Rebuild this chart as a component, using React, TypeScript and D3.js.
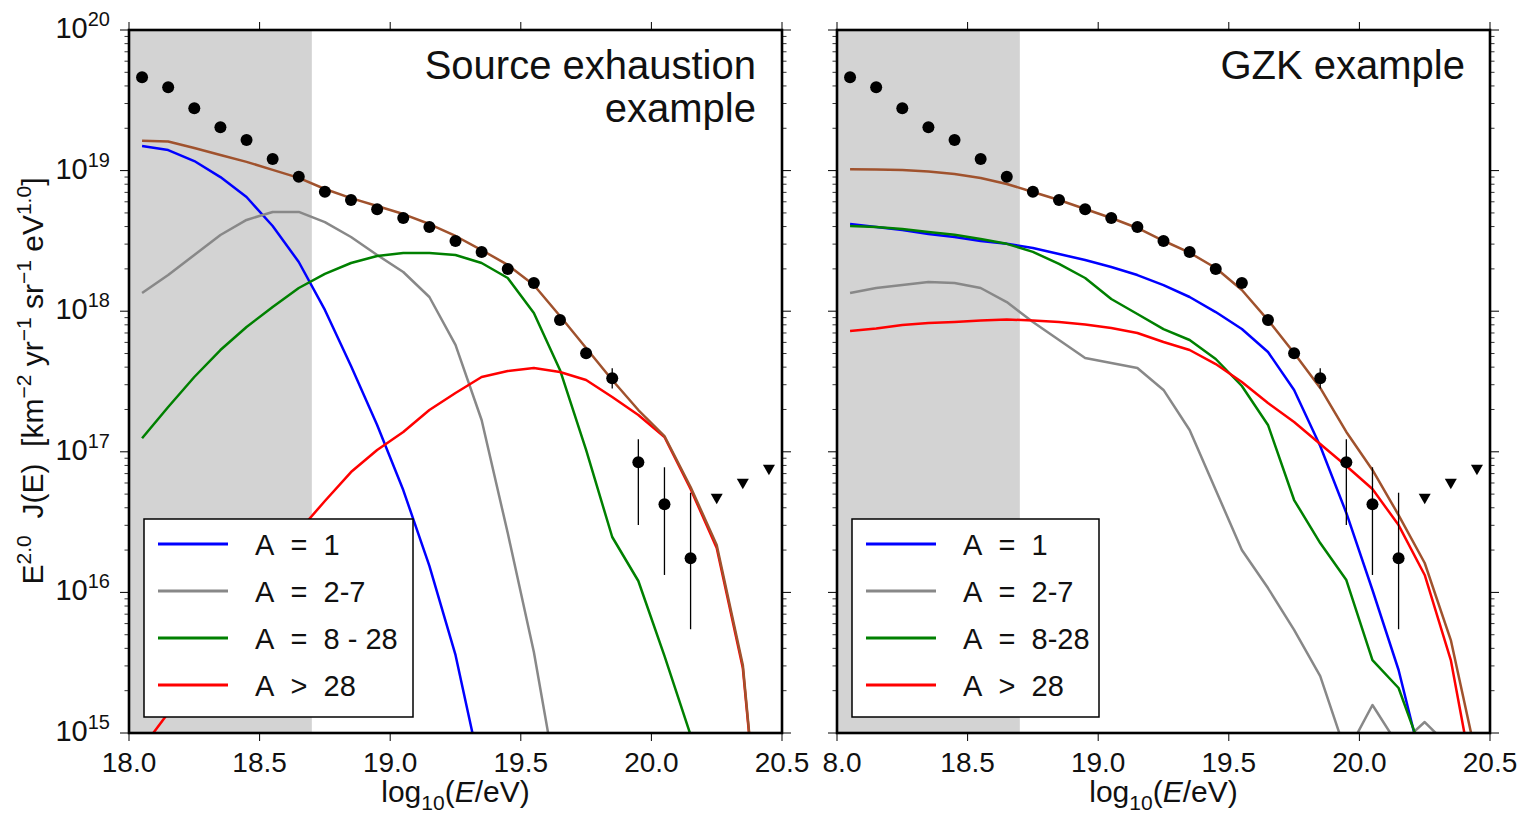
import React from "react";
import * as d3 from "d3";

// Energy bin centres, log10(E/eV)
const energyBins = [
  18.05, 18.15, 18.25, 18.35, 18.45, 18.55, 18.65, 18.75, 18.85, 18.95,
  19.05, 19.15, 19.25, 19.35, 19.45, 19.55, 19.65, 19.75, 19.85, 19.95,
  20.05, 20.15, 20.25, 20.35, 20.45,
];

// Measured spectrum, log10 of E^2 J(E)
const measuredFlux = [
  19.664, 19.592, 19.443, 19.308, 19.218, 19.083, 18.957, 18.85, 18.791, 18.725,
  18.663, 18.599, 18.499, 18.421, 18.3, 18.2, 17.937, 17.701, 17.523, 16.925,
  16.627, 16.243,
];
// Error bars [bin index, low, high] (log10)
const measuredErrors: [number, number, number][] = [
  [18, 17.45, 17.594],
  [19, 16.479, 17.089],
  [20, 16.124, 16.89],
  [21, 15.738, 16.709],
];
// Upper limits at the last three bins (log10)
const upperLimitBins = [20.25, 20.35, 20.45];
const upperLimits = [16.669, 16.776, 16.876];

// Source exhaustion scenario (log10 flux per bin)
const exhaustionA1 = [19.175, 19.146, 19.068, 18.954, 18.812, 18.606, 18.35, 18.009, 17.61, 17.191, 16.728, 16.188, 15.555, 14.7];
const exhaustionA2to7 = [18.129, 18.257, 18.4, 18.542, 18.649, 18.706, 18.706, 18.634, 18.528, 18.4, 18.279, 18.101, 17.76, 17.226, 16.422, 15.576, 14.52];
const exhaustionA8to28 = [17.096, 17.319, 17.532, 17.724, 17.888, 18.03, 18.165, 18.265, 18.343, 18.393, 18.414, 18.414, 18.4, 18.343, 18.236, 17.987, 17.582, 17.013, 16.394, 16.081, 15.548, 14.986, 14.0];
const exhaustionAgt28 = [14.893, 15.142, 15.405, 15.669, 15.932, 16.188, 16.437, 16.65, 16.856, 17.013, 17.141, 17.297, 17.418, 17.532, 17.575, 17.596, 17.568, 17.511, 17.39, 17.262, 17.105, 16.736, 16.316, 15.462, 13.5];
const exhaustionTotal = [19.213, 19.207, 19.161, 19.111, 19.062, 19.005, 18.948, 18.869, 18.804, 18.748, 18.691, 18.62, 18.535, 18.435, 18.329, 18.186, 17.966, 17.738, 17.511, 17.297, 17.112, 16.75, 16.337, 15.484, 13.5];

// GZK scenario (log10 flux per bin)
const gzkA1 = [18.62, 18.599, 18.578, 18.549, 18.528, 18.5, 18.479, 18.45, 18.407, 18.364, 18.314, 18.257, 18.186, 18.101, 17.994, 17.873, 17.71, 17.44, 17.041, 16.565, 16.017, 15.448, 14.7];
const gzkA2to7 = [18.129, 18.165, 18.186, 18.208, 18.201, 18.165, 18.065, 17.923, 17.795, 17.667, 17.632, 17.596, 17.44, 17.155, 16.728, 16.302, 16.031, 15.733, 15.405, 14.851, 15.199, 14.908, 15.078, 14.893];
const gzkA8to28 = [18.606, 18.599, 18.585, 18.564, 18.543, 18.514, 18.479, 18.422, 18.336, 18.236, 18.087, 17.98, 17.873, 17.795, 17.66, 17.468, 17.191, 16.657, 16.351, 16.088, 15.519, 15.32, 14.808];
const gzkAgt28 = [17.859, 17.877, 17.902, 17.916, 17.923, 17.934, 17.941, 17.934, 17.923, 17.905, 17.88, 17.845, 17.781, 17.724, 17.624, 17.496, 17.347, 17.212, 17.055, 16.899, 16.735, 16.479, 16.124, 15.519, 14.52];
const gzkTotal = [19.009, 19.008, 19.004, 18.994, 18.976, 18.948, 18.905, 18.848, 18.791, 18.727, 18.663, 18.592, 18.501, 18.416, 18.307, 18.151, 17.937, 17.703, 17.454, 17.141, 16.871, 16.55, 16.209, 15.661, 14.808];

const xTicks = [18.0, 18.5, 19.0, 19.5, 20.0, 20.5];
const xTickLabelsLeft = ["18.0", "18.5", "19.0", "19.5", "20.0", "20.5"];
const xTickLabelsRight = ["8.0", "18.5", "19.0", "19.5", "20.0", "20.5"];
const yDecades = [15, 16, 17, 18, 19, 20];
const shadeRange = [18.0, 18.7];

const NB = "\u00A0";
const legendLeft = [`A${NB}${NB}=${NB}${NB}1`, `A${NB}${NB}=${NB}${NB}2-7`, `A${NB}${NB}=${NB}${NB}8${NB}-${NB}28`, `A${NB}${NB}>${NB}${NB}28`];
const legendRight = [`A${NB}${NB}=${NB}${NB}1`, `A${NB}${NB}=${NB}${NB}2-7`, `A${NB}${NB}=${NB}${NB}8-28`, `A${NB}${NB}>${NB}${NB}28`];
const componentColors = ["#0000ff", "#888888", "#008000", "#ff0000"];
const totalColor = "#a0522d";

const FONT = "'Liberation Sans', Arial, sans-serif";
const TOP = 30;
const BOTTOM = 733;

type PanelProps = {
  id: string;
  x0: number;
  x1: number;
  components: number[][];
  total: number[];
  title: string[];
  titleRight: number;
  legendLabels: string[];
  legendWidth: number;
  tickLabels: string[];
  showYLabels: boolean;
};

function Panel(p: PanelProps) {
  const x = d3.scaleLinear().domain([18, 20.5]).range([p.x0, p.x1]);
  const y = d3.scaleLog().domain([1e15, 1e20]).range([BOTTOM, TOP]);
  const line = d3
    .line<number>()
    .x((_, i) => x(energyBins[i]))
    .y((v) => y(Math.pow(10, v)));

  const minor: number[] = [];
  for (let d = 15; d < 20; d++) for (let m = 2; m <= 9; m++) minor.push(m * Math.pow(10, d));

  const lx = p.x0 + 15;
  const ly = BOTTOM - 16 - 198;

  const tri = (cx: number, cy: number) =>
    `M${cx - 6},${cy - 4.5} L${cx + 6},${cy - 4.5} L${cx},${cy + 6} Z`;

  return (
    <g>
      <defs>
        <clipPath id={p.id}>
          <rect x={p.x0} y={TOP} width={p.x1 - p.x0} height={BOTTOM - TOP} />
        </clipPath>
      </defs>
      <rect
        x={x(shadeRange[0])}
        y={TOP}
        width={x(shadeRange[1]) - x(shadeRange[0])}
        height={BOTTOM - TOP}
        fill="#d3d3d3"
      />
      <g clipPath={`url(#${p.id})`} fill="none" strokeWidth={2.5} strokeLinejoin="round">
        {p.components.map((s, i) => (
          <path key={i} d={line(s) || ""} stroke={componentColors[i]} />
        ))}
        <path d={line(p.total) || ""} stroke={totalColor} />
      </g>
      {/* measured points */}
      <g>
        {measuredErrors.map(([i, lo, hi]) => (
          <line
            key={i}
            x1={x(energyBins[i])}
            x2={x(energyBins[i])}
            y1={y(Math.pow(10, lo))}
            y2={y(Math.pow(10, hi))}
            stroke="#000"
            strokeWidth={1.3}
          />
        ))}
        {measuredFlux.map((v, i) => (
          <circle key={i} cx={x(energyBins[i])} cy={y(Math.pow(10, v))} r={6} fill="#000" />
        ))}
        {upperLimits.map((v, i) => (
          <path key={i} d={tri(x(upperLimitBins[i]), y(Math.pow(10, v)))} fill="#000" />
        ))}
      </g>
      {/* legend */}
      <g>
        <rect x={lx} y={ly} width={p.legendWidth} height={198} fill="#fff" stroke="#000" strokeWidth={1.5} />
        {p.legendLabels.map((lab, i) => (
          <g key={i}>
            <line
              x1={lx + 14}
              x2={lx + 84}
              y1={ly + 25 + i * 47}
              y2={ly + 25 + i * 47}
              stroke={componentColors[i]}
              strokeWidth={3}
            />
            <text x={lx + 111} y={ly + 36 + i * 47} fontFamily={FONT} fontSize={29} fill="#111">
              {lab}
            </text>
          </g>
        ))}
      </g>
      {/* title */}
      <text fontFamily={FONT} fontSize={40} fill="#111" textAnchor="end">
        {p.title.map((t, i) => (
          <tspan key={i} x={p.titleRight} y={79 + i * 43}>
            {t}
          </tspan>
        ))}
      </text>
      {/* frame */}
      <rect x={p.x0} y={TOP} width={p.x1 - p.x0} height={BOTTOM - TOP} fill="none" stroke="#000" strokeWidth={2.6} />
      {/* x ticks */}
      {xTicks.map((t, i) => (
        <g key={i}>
          <line x1={x(t)} x2={x(t)} y1={BOTTOM} y2={BOTTOM + 8} stroke="#000" strokeWidth={1} />
          <line x1={x(t)} x2={x(t)} y1={TOP} y2={TOP - 8} stroke="#000" strokeWidth={1} />
          <text
            x={x(t) + (p.tickLabels[i].length < 4 ? 5 : 0)}
            y={772}
            textAnchor="middle"
            fontFamily={FONT}
            fontSize={28}
            fill="#111"
          >
            {p.tickLabels[i]}
          </text>
        </g>
      ))}
      {/* y ticks */}
      {yDecades.map((d) => (
        <g key={d}>
          <line x1={p.x0 - 9} x2={p.x0} y1={y(Math.pow(10, d))} y2={y(Math.pow(10, d))} stroke="#000" strokeWidth={1} />
          <line x1={p.x1} x2={p.x1 + 9} y1={y(Math.pow(10, d))} y2={y(Math.pow(10, d))} stroke="#000" strokeWidth={1} />
          {p.showYLabels && (
            <text x={p.x0 - 19} y={y(Math.pow(10, d)) + 8} textAnchor="end" fontFamily={FONT} fontSize={29} fill="#111">
              10
              <tspan fontSize={20} dy={-12}>
                {d}
              </tspan>
            </text>
          )}
        </g>
      ))}
      {minor.map((v, i) => (
        <g key={i}>
          <line x1={p.x0 - 4.5} x2={p.x0} y1={y(v)} y2={y(v)} stroke="#000" strokeWidth={0.8} />
          <line x1={p.x1} x2={p.x1 + 4.5} y1={y(v)} y2={y(v)} stroke="#000" strokeWidth={0.8} />
        </g>
      ))}
      {/* x label */}
      <text x={(p.x0 + p.x1) / 2} y={802} textAnchor="middle" fontFamily={FONT} fontSize={30} fill="#111">
        log
        <tspan fontSize={21} dy={8}>10</tspan>
        <tspan dy={-8}>(</tspan>
        <tspan fontStyle="italic">E</tspan>
        <tspan>/eV)</tspan>
      </text>
    </g>
  );
}

export default function App() {
  return (
    <svg
      width={1519}
      height={818}
      style={{ position: "absolute", left: 0, top: 0, background: "#fff" }}
    >
      <rect x={0} y={0} width={1519} height={818} fill="#fff" />
      <Panel
        id="clip-left"
        x0={129}
        x1={782}
        components={[exhaustionA1, exhaustionA2to7, exhaustionA8to28, exhaustionAgt28]}
        total={exhaustionTotal}
        title={["Source exhaustion", "example"]}
        titleRight={756}
        legendLabels={legendLeft}
        legendWidth={269}
        tickLabels={xTickLabelsLeft}
        showYLabels={true}
      />
      <Panel
        id="clip-right"
        x0={837}
        x1={1490}
        components={[gzkA1, gzkA2to7, gzkA8to28, gzkAgt28]}
        total={gzkTotal}
        title={["GZK example"]}
        titleRight={1465}
        legendLabels={legendRight}
        legendWidth={247}
        tickLabels={xTickLabelsRight}
        showYLabels={false}
      />
      {/* y axis label */}
      <text
        transform="translate(43,381) rotate(-90)"
        textAnchor="middle"
        fontFamily={FONT}
        fontSize={30}
        fill="#111"
      >
        E<tspan fontSize={21} dy={-12}>2.0</tspan>
        <tspan dy={12}>{`${NB}${NB}J(E)${NB}${NB}[km`}</tspan>
        <tspan fontSize={21} dy={-12}>−2</tspan>
        <tspan dy={12}>{`${NB}yr`}</tspan>
        <tspan fontSize={21} dy={-12}>−1</tspan>
        <tspan dy={12}>{`${NB}sr`}</tspan>
        <tspan fontSize={21} dy={-12}>−1</tspan>
        <tspan dy={12}>{`${NB}eV`}</tspan>
        <tspan fontSize={21} dy={-12}>1.0</tspan>
        <tspan dy={12}>]</tspan>
      </text>
    </svg>
  );
}
